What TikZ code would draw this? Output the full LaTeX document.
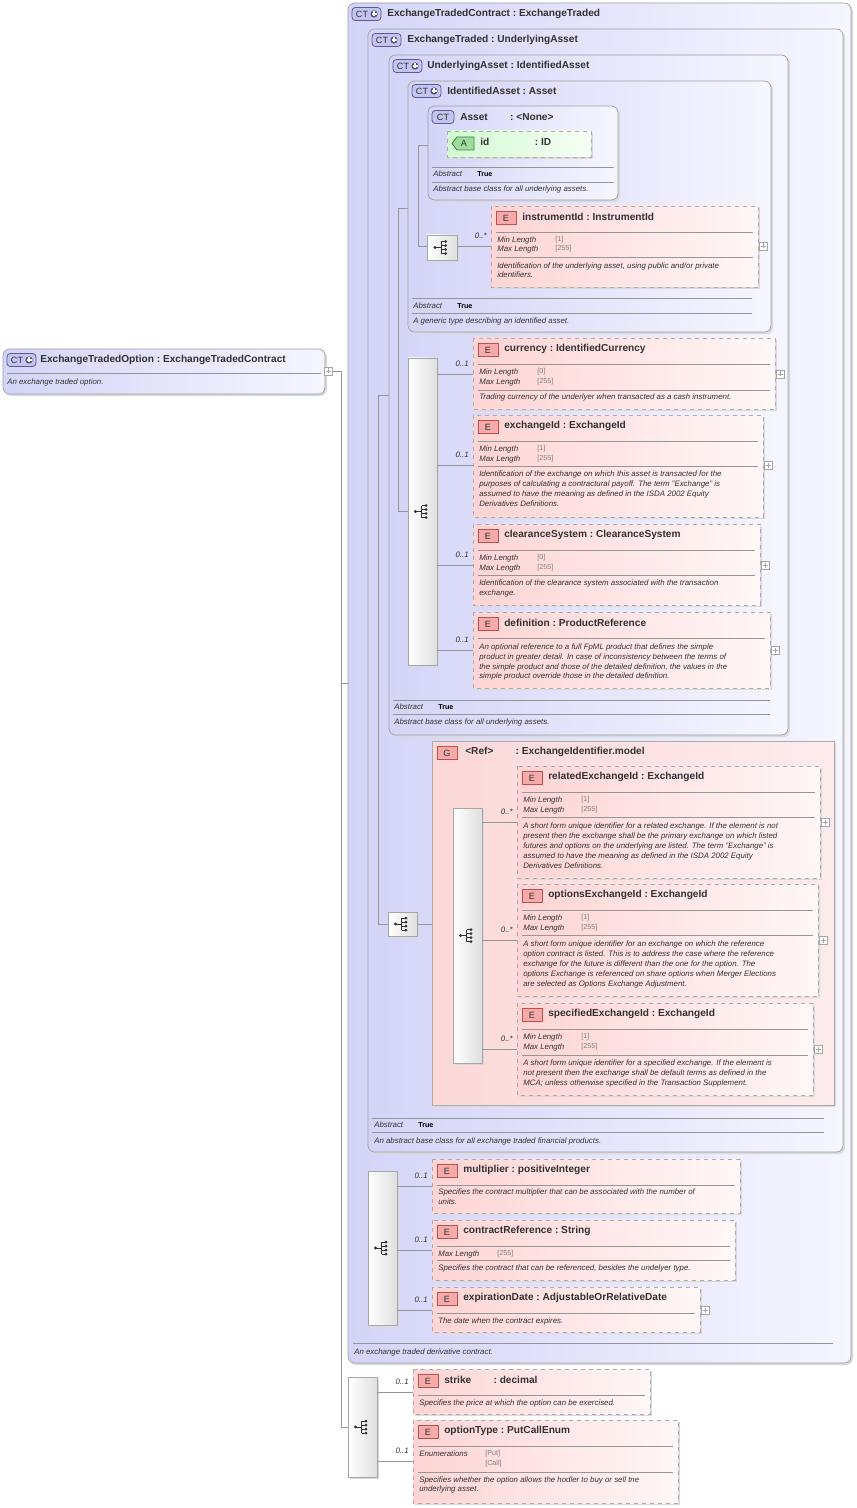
\documentclass[tikz,border=0pt]{standalone}
\usepackage{fontspec}
\setmainfont{Liberation Sans}
\usetikzlibrary{calc}
\definecolor{ctA}{RGB}{212,212,248}
\definecolor{ctB}{RGB}{246,246,255}
\definecolor{eA}{RGB}{255,212,212}
\definecolor{eB}{RGB}{255,247,247}
\definecolor{gA}{RGB}{252,216,216}
\definecolor{txt}{RGB}{50,50,50}
\definecolor{ln}{RGB}{150,150,150}
\definecolor{bdgB}{RGB}{90,90,150}
\definecolor{bdgF}{RGB}{196,196,240}
\definecolor{bdgC}{RGB}{80,80,120}
\definecolor{eBd}{RGB}{190,80,80}
\definecolor{eBf}{RGB}{246,170,170}
\definecolor{aBd}{RGB}{60,130,60}
\definecolor{aBf}{RGB}{160,220,160}
\definecolor{aA}{RGB}{210,250,210}
\definecolor{aB}{RGB}{246,255,246}
\tikzset{
 x=0.75pt,y=-0.75pt,
 ttl/.style={anchor=west,inner sep=0,font=\fontsize{7.6}{9}\selectfont\bfseries,text=txt},
 sm/.style={anchor=west,inner sep=0,font=\fontsize{5.9}{7}\selectfont\itshape,text=txt},
 fac/.style={anchor=west,inner sep=0,font=\fontsize{5.4}{7}\selectfont,text=gray},
 absv/.style={anchor=west,inner sep=0,font=\fontsize{5.4}{7}\selectfont\bfseries,text=black},
 mult/.style={anchor=east,inner sep=0,font=\fontsize{5.9}{7}\selectfont\itshape,text=txt},
 conn/.style={draw=ln,line width=0.5pt},
 sepl/.style={draw=ln,line width=0.45pt},
 ctbox/.style={draw=gray!75,line width=0.5pt,rounded corners=5pt,left color=ctA,right color=ctB},
 ebox/.style={draw=gray!65,dashed,line width=0.6pt,left color=eA,right color=eB},
 gbox/.style={draw=gray!65,line width=0.6pt,left color=gA,right color=gA!50},
 sbox/.style={draw=gray!70,line width=0.5pt,left color=white,right color=gray!25},
 shad/.style={fill=gray!30},
}
\newcommand\CTbox[5]{\fill[shad,rounded corners=5pt] (#1+2,#2+2) rectangle (#3+2,#4+2);
 \draw[ctbox] (#1,#2) rectangle (#3,#4) node[coordinate] (#5){};}
\newcommand\Ebox[4]{\fill[shad] (#1+2,#2+2) rectangle (#3+2,#4+2);
 \draw[ebox] (#1,#2) rectangle (#3,#4);}
\newcommand\Sep[3]{\draw[sepl] (#1,#3) -- (#2,#3);}
\newcommand\CTbadge[3]{%
 \draw[draw=bdgB,fill=bdgF,rounded corners=2.5pt,line width=0.6pt] (#2,#3-6.5) rectangle (#2+29,#3+6.5);
 \node[inner sep=0,font=\fontsize{6.8}{7}\selectfont,text=txt] (#1) at (#2+10,#3) {CT};
 \fill[bdgC] (#2+22,#3) circle (3.6);
 \draw[white,line width=0.9pt] (#2+19.5,#3) -- (#2+24.5,#3) (#2+22,#3-2.5) -- (#2+22,#3+2.5);}
\newcommand\CTbadgeS[3]{%
 \draw[draw=bdgB,fill=bdgF,rounded corners=2.5pt,line width=0.6pt] (#2,#3-6.5) rectangle (#2+22,#3+6.5);
 \node[inner sep=0,font=\fontsize{6.8}{7}\selectfont,text=txt] (#1) at (#2+11,#3) {CT};}
\newcommand\Ebadge[4]{%
 \draw[draw=eBd,fill=eBf,line width=0.6pt] (#2,#3-6.5) rectangle (#2+20,#3+6.5);
 \node[inner sep=0,font=\fontsize{6.8}{7}\selectfont,text=txt] (#1) at (#2+10,#3) {#4};}
\newcommand\Elem[6]{\Ebox{#2}{#3}{#4}{#5}
 \Ebadge{#1b}{#2+5}{#3+12}{E}
 \node[ttl] (#1) at (#2+31,#3+11) {#6};
 \Sep{#2+5}{#4-5}{#3+26}}
\newcommand\Plus[2]{\draw[gray!70,fill=white,line width=0.4pt] (#1-4,#2-4) rectangle (#1+4,#2+4);
 \draw[gray!70,line width=0.4pt] (#1-2.5,#2) -- (#1+2.5,#2) (#1,#2-2.5) -- (#1,#2+2.5);}
\newcommand\SeqIcon[2]{%
 \fill[txt] (#1-7,#2) circle (1.6);
 \draw[txt,line width=0.7pt] (#1-7,#2) -- (#1-1,#2) (#1-1,#2-6) -- (#1-1,#2+6)
   (#1-1,#2-6) -- (#1+3,#2-6) (#1-1,#2-2) -- (#1+3,#2-2) (#1-1,#2+2) -- (#1+3,#2+2) (#1-1,#2+6) -- (#1+3,#2+6);
 \foreach \q in {-6,-2,2,6}{\fill[txt] (#1+3.5,#2+\q) circle (1.5);}}
\newcommand\Seq[5]{%
 \fill[shad] (#2+2,#3+2) rectangle (#4+2,#5+2);
 \draw[sbox] (#2,#3) rectangle (#4,#5);
 \coordinate (#1) at ($(#2,#3)!0.5!(#4,#5)$);
 \pgfmathsetmacro\seqcx{(#2+#4)/2}\pgfmathsetmacro\seqcy{(#3+#5)/2}%
 \SeqIcon{\seqcx}{\seqcy}}
\newcommand\Mult[3]{\node[mult] at (#1-4,#2-10) {#3};}
\newcommand\Link[3]{\draw[conn] (#1,#3) -- (#2,#3);}
\begin{document}
\begin{tikzpicture}
\useasboundingbox (0,0) rectangle (856,1508);
\fill[white] (0,0) rectangle (856,1508);

\draw[conn] (333,371) -- (341,371) -- (341,1427) -- (348,1427);
\draw[conn] (341,683) -- (358,683);
\draw[conn] (358,590) -- (358,1248) -- (368,1248);
\draw[conn] (358,590) -- (378,590);

\CTbox{3}{349}{325}{394}{eto}
\CTbadge{etoB}{7}{360}
\node[ttl] (etoT) at (40,360) {ExchangeTradedOption\ :\ ExchangeTradedContract};
\Sep{7}{321}{373}
\node[sm] (etoD) at (7,382) {An exchange traded option.};
\Plus{328}{371}

\CTbox{348}{3}{851}{1363}{etc}
\CTbadge{etcB}{352}{14}
\node[ttl] (etcT) at (387,14) {ExchangeTradedContract\ :\ ExchangeTraded};
\Sep{353}{833}{1343}
\node[sm] (etcD) at (354,1352) {An exchange traded derivative contract.};

\CTbox{368}{29}{843}{1152}{et}
\CTbadge{etB}{372}{40}
\node[ttl] (etT) at (407,40) {ExchangeTraded\ :\ UnderlyingAsset};
\Sep{372}{824}{1118}\Sep{372}{824}{1132}
\node[sm] (etA) at (374,1125) {Abstract}; \node[absv] (etAv) at (418,1125) {True};
\node[sm] (etD) at (374,1141) {An abstract base class for all exchange traded financial products.};
\draw[conn] (378,395) -- (378,924) -- (388,924);
\draw[conn] (378,395) -- (398,395);

\CTbox{389}{55}{788}{735}{ua}
\CTbadge{uaB}{393}{66}
\node[ttl] (uaT) at (427,66) {UnderlyingAsset\ :\ IdentifiedAsset};
\Sep{393}{770}{700}\Sep{393}{770}{714}
\node[sm] (uaA) at (394,707) {Abstract}; \node[absv] (uaAv) at (438,707) {True};
\node[sm] (uaD) at (394,722) {Abstract base class for all underlying assets.};
\draw[conn] (398,208) -- (398,511) -- (408,511);
\draw[conn] (398,208) -- (418,208);

\CTbox{408}{81}{771}{332}{ia}
\CTbadge{iaB}{412}{91}
\node[ttl] (iaT) at (447,91) {IdentifiedAsset\ :\ Asset};
\Sep{412}{752}{298}\Sep{412}{752}{313}
\node[sm] (iaA) at (413,306) {Abstract}; \node[absv] (iaAv) at (457,306) {True};
\node[sm] (iaD) at (413,321) {A generic type describing an identified asset.};
\draw[conn] (418,145) -- (418,246) -- (427,246);
\draw[conn] (418,145) -- (447,145);

\CTbox{428}{106}{618}{200}{as}
\CTbadgeS{asB}{432}{117}
\node[ttl] (asT) at (460,117) {Asset\hspace{2.2em}:\ <None>};
\fill[shad] (449,133) rectangle (593,159);
\draw[draw=gray!65,dashed,line width=0.6pt,left color=aA,right color=aB] (447,131) rectangle (591,157);
\draw[draw=aBd,fill=aBf,line width=0.6pt] (457,137) -- (474,137) -- (474,150) -- (457,150) -- (452,143.5) -- cycle;
\node[inner sep=0,font=\fontsize{6.8}{7}\selectfont,text=txt] (aBadge) at (464,143.5) {A};
\node[ttl] (aT) at (480,142) {id\hspace{4.5em}:\ ID};
\Sep{432}{614}{167}\Sep{432}{614}{182}
\node[sm] (asA) at (433,174) {Abstract}; \node[absv] (asAv) at (477,174) {True};
\node[sm] (asD) at (433,189) {Abstract base class for all underlying assets.};

\Seq{s1}{427}{235}{457}{260}
\Link{457}{491}{246}\Mult{491}{246}{0..*}
\Elem{iid}{491}{206}{758}{287}{instrumentId\ :\ InstrumentId}
\node[sm] at (497,240) {Min Length}; \node[fac] at (555,240) {[1]};
\node[sm] at (497,249) {Max Length}; \node[fac] at (555,249) {[255]};
\Sep{496}{753}{257}
\node[sm] at (497,266) {Identification of the underlying asset, using public and/or private};
\node[sm] at (497,275) {identifiers.};
\Plus{763}{246}

\Seq{s2}{408}{358}{437}{665}
\Link{437}{473}{374}\Mult{473}{374}{0..1}
\Link{437}{473}{465}\Mult{473}{465}{0..1}
\Link{437}{473}{565}\Mult{473}{565}{0..1}
\Link{437}{473}{650}\Mult{473}{650}{0..1}

\Elem{cur}{473}{338}{775}{409}{currency\ :\ IdentifiedCurrency}
\node[sm] at (479,372) {Min Length}; \node[fac] at (537,372) {[0]};
\node[sm] at (479,382) {Max Length}; \node[fac] at (537,382) {[255]};
\Sep{478}{770}{390}
\node[sm] at (479,397) {Trading currency of the underlyer when transacted as a cash instrument.};
\Plus{780}{374}

\Elem{exid}{473}{415}{763}{517}{exchangeId\ :\ ExchangeId}
\node[sm] at (479,449) {Min Length}; \node[fac] at (537,449) {[1]};
\node[sm] at (479,459) {Max Length}; \node[fac] at (537,459) {[255]};
\Sep{478}{758}{466}
\node[sm] at (479,474) {Identification of the exchange on which this asset is transacted for the};
\node[sm] at (479,484) {purposes of calculating a contractural payoff. The term "Exchange" is};
\node[sm] at (479,494) {assumed to have the meaning as defined in the ISDA 2002 Equity};
\node[sm] at (479,504) {Derivatives Definitions.};
\Plus{768}{465}

\Elem{cls}{473}{524}{760}{605}{clearanceSystem\ :\ ClearanceSystem}
\node[sm] at (479,558) {Min Length}; \node[fac] at (537,558) {[0]};
\node[sm] at (479,568) {Max Length}; \node[fac] at (537,568) {[255]};
\Sep{478}{755}{575}
\node[sm] at (479,583) {Identification of the clearance system associated with the transaction};
\node[sm] at (479,593) {exchange.};
\Plus{765}{565}

\Elem{defi}{473}{612}{770}{688}{definition\ :\ ProductReference}
\node[sm] at (479,647) {An optional reference to a full FpML product that defines the simple};
\node[sm] at (479,657) {product in greater detail. In case of inconsistency between the terms of};
\node[sm] at (479,667) {the simple product and those of the detailed definition, the values in the};
\node[sm] at (479,676) {simple product override those in the detailed definition.};
\Plus{775}{650}

\Seq{s3}{388}{912}{417}{936}
\Link{417}{432}{924}
\fill[shad] (434,743) rectangle (836,1107);
\draw[gbox] (432,741) rectangle (834,1105);
\Ebadge{gB}{437}{753}{G}
\node[ttl] (gT) at (465,752) {<Ref>\hspace{2.2em}:\ ExchangeIdentifier.model};
\Seq{s4}{453}{808}{482}{1063}
\Link{482}{517}{822}\Mult{517}{822}{0..*}
\Link{482}{517}{940}\Mult{517}{940}{0..*}
\Link{482}{517}{1049}\Mult{517}{1049}{0..*}

\Elem{rel}{517}{766}{820}{878}{relatedExchangeId\ :\ ExchangeId}
\node[sm] at (523,800) {Min Length}; \node[fac] at (581,800) {[1]};
\node[sm] at (523,810) {Max Length}; \node[fac] at (581,810) {[255]};
\Sep{522}{815}{817}
\node[sm] at (523,826) {A short form unique identifier for a related exchange. If the element is not};
\node[sm] at (523,836) {present then the exchange shall be the primary exchange on which listed};
\node[sm] at (523,846) {futures and options on the underlying are listed. The term "Exchange" is};
\node[sm] at (523,856) {assumed to have the meaning as defined in the ISDA 2002 Equity};
\node[sm] at (523,866) {Derivatives Definitions.};
\Plus{825}{822}

\Elem{opt}{517}{884}{818}{996}{optionsExchangeId\ :\ ExchangeId}
\node[sm] at (523,918) {Min Length}; \node[fac] at (581,918) {[1]};
\node[sm] at (523,928) {Max Length}; \node[fac] at (581,928) {[255]};
\Sep{522}{813}{935}
\node[sm] at (523,944) {A short form unique identifier for an exchange on which the reference};
\node[sm] at (523,954) {option contract is listed. This is to address the case where the reference};
\node[sm] at (523,964) {exchange for the future is different than the one for the option. The};
\node[sm] at (523,974) {options Exchange is referenced on share options when Merger Elections};
\node[sm] at (523,984) {are selected as Options Exchange Adjustment.};
\Plus{823}{940}

\Elem{spe}{517}{1003}{813}{1095}{specifiedExchangeId\ :\ ExchangeId}
\node[sm] at (523,1037) {Min Length}; \node[fac] at (581,1037) {[1]};
\node[sm] at (523,1047) {Max Length}; \node[fac] at (581,1047) {[255]};
\Sep{522}{808}{1055}
\node[sm] at (523,1063) {A short form unique identifier for a specified exchange. If the element is};
\node[sm] at (523,1073) {not present then the exchange shall be default terms as defined in the};
\node[sm] at (523,1083) {MCA; unless otherwise specified in the Transaction Supplement.};
\Plus{818}{1049}

\Seq{s5}{368}{1171}{397}{1325}
\Link{397}{432}{1186}\Mult{432}{1186}{0..1}
\Link{397}{432}{1250}\Mult{432}{1250}{0..1}
\Link{397}{432}{1310}\Mult{432}{1310}{0..1}

\Elem{mul}{432}{1159}{740}{1213}{multiplier\ :\ positiveInteger}
\node[sm] at (438,1192) {Specifies the contract multiplier that can be associated with the number of};
\node[sm] at (438,1202) {units.};

\Elem{cref}{432}{1220}{735}{1280}{contractReference\ :\ String}
\node[sm] at (438,1254) {Max Length}; \node[fac] at (497,1254) {[255]};
\Sep{437}{730}{1260}
\node[sm] at (438,1268) {Specifies the contract that can be referenced, besides the undelyer type.};

\Elem{exp}{432}{1287}{700}{1332}{expirationDate\ :\ AdjustableOrRelativeDate}
\node[sm] at (438,1321) {The date when the contract expires.};
\Plus{705}{1310}

\Seq{s6}{348}{1377}{377}{1477}
\Link{377}{413}{1392}\Mult{413}{1392}{0..1}
\Link{377}{413}{1461}\Mult{413}{1461}{0..1}

\Elem{stk}{413}{1369}{650}{1414}{strike\hspace{2.2em}:\ decimal}
\node[sm] at (419,1403) {Specifies the price at which the option can be exercised.};

\Elem{otp}{413}{1420}{678}{1503}{optionType\ :\ PutCallEnum}
\node[sm] at (419,1454) {Enumerations}; \node[fac] at (485,1454) {[Put]};
\node[fac] at (485,1464) {[Call]};
\Sep{418}{673}{1472}
\node[sm] at (419,1480) {Specifies whether the option allows the hodler to buy or sell tne};
\node[sm] at (419,1489) {underlying asset.};
\end{tikzpicture}
\end{document}
